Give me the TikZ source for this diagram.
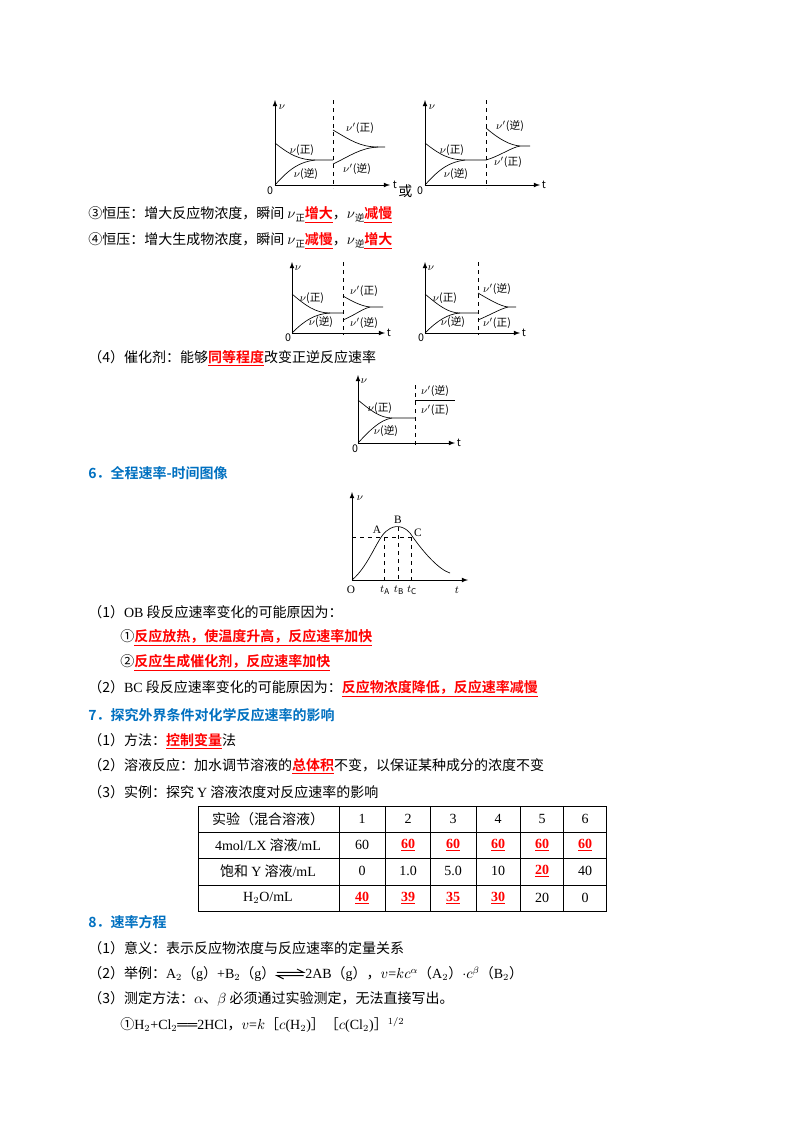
\documentclass[tikz,border=0pt]{standalone}
\usepackage{fontspec}
\setmainfont{Noto Sans CJK SC}[BoldFont={Noto Sans CJK SC Bold}]
\newfontfamily\lat{Liberation Serif}
\definecolor{hblue}{RGB}{0,112,192}
\newcommand{\rb}[1]{\textcolor{red}{\bfseries\underline{#1}}}
\begin{document}
\begin{tikzpicture}[x=0.75pt,y=-0.75pt,
  txt/.style={anchor=west,inner sep=0pt,font=\fontsize{10.5pt}{12pt}\selectfont},
  head/.style={txt,text=hblue,font=\fontsize{10.5pt}{12pt}\selectfont\bfseries},
  ax/.style={line width=0.6pt,-latex},
  cv/.style={line width=0.5pt},
  dsh/.style={line width=0.6pt,dashed},
  gl/.style={inner sep=0pt,font=\fontsize{8pt}{9pt}\selectfont},
  cell/.style={inner sep=0pt,font=\lat\fontsize{10.5pt}{12pt}\selectfont}]
\useasboundingbox (0,0) rectangle (800,1132);

% ---------- graph 1
\coordinate (o1) at (275,185);
\draw[ax] (o1) -- (275,100);
\draw[ax] (o1) -- (390,185);
\node[gl] (t1) at (395,185) {t};
\node[gl] (z1) at (270,191) {0};
\node[gl] (v1) at (282,107) {$\nu$};
\draw[dsh] (333,100) -- (333,188);
\draw[cv] (275,143) .. controls (290,155) and (300,160) .. (315,160) -- (333,160);
\draw[cv] (275,185) .. controls (290,168) and (300,162) .. (315,160);
\draw[cv] (333,130) .. controls (350,140) and (360,147) .. (378,147) -- (385,147);
\draw[cv] (333,164) .. controls (350,156) and (360,148) .. (378,147);
\node[gl] (a1) at (302,150) {$\nu$(正)};
\node[gl] (b1) at (306,174) {$\nu$(逆)};
\node[gl] (c1) at (360,128) {$\nu'$(正)};
\node[gl] (d1) at (357,169) {$\nu'$(逆)};
\node[txt] (huo) at (398,191) {或};

% ---------- graph 2
\coordinate (o2) at (425,185);
\draw[ax] (o2) -- (425,100);
\draw[ax] (o2) -- (540,185);
\node[gl] (t2) at (544,185) {t};
\node[gl] (z2) at (420,191) {0};
\node[gl] (v2) at (432,107) {$\nu$};
\draw[dsh] (486,100) -- (486,188);
\draw[cv] (425,143) .. controls (440,155) and (450,160) .. (465,160) -- (486,160);
\draw[cv] (425,185) .. controls (440,168) and (450,162) .. (465,160);
\draw[cv] (486,128) .. controls (500,140) and (510,145) .. (520,146) -- (530,146);
\draw[cv] (486,160) .. controls (500,156) and (510,148) .. (520,146);
\node[gl] (a2) at (452,150) {$\nu$(正)};
\node[gl] (b2) at (456,174) {$\nu$(逆)};
\node[gl] (c2) at (510,126) {$\nu'$(逆)};
\node[gl] (d2) at (508,162) {$\nu'$(正)};

\node[txt] (l3) at (88,215) {③恒压：增大反应物浓度，瞬间 $\nu$\raisebox{-0.3ex}{\scriptsize 正}\rb{增大}，$\nu$\raisebox{-0.3ex}{\scriptsize 逆}\rb{减慢}};
\node[txt] (l4) at (88,241) {④恒压：增大生成物浓度，瞬间 $\nu$\raisebox{-0.3ex}{\scriptsize 正}\rb{减慢}，$\nu$\raisebox{-0.3ex}{\scriptsize 逆}\rb{增大}};

% ---------- graph 3
\draw[ax] (292,333) -- (292,262);
\draw[ax] (292,333) -- (385,333);
\node[gl] (t3) at (389,333) {t};
\node[gl] (z3) at (288,338) {0};
\node[gl] (v3) at (298,268) {$\nu$};
\draw[dsh] (343,262) -- (343,335);
\draw[cv] (292,294) .. controls (305,305) and (315,313) .. (330,313) -- (343,313);
\draw[cv] (292,333) .. controls (305,320) and (315,314) .. (330,313);
\draw[cv] (343,296) .. controls (355,303) and (362,306) .. (370,307) -- (383,307);
\draw[cv] (343,320) .. controls (355,315) and (362,309) .. (370,307);
\node[gl] (a3) at (312,298) {$\nu$(正)};
\node[gl] (b3) at (321,322) {$\nu$(逆)};
\node[gl] (c3) at (364,291) {$\nu'$(正)};
\node[gl] (d3) at (364,323) {$\nu'$(逆)};

% ---------- graph 4
\draw[ax] (425,333) -- (425,262);
\draw[ax] (425,333) -- (520,333);
\node[gl] (t4) at (524,333) {t};
\node[gl] (z4) at (421,338) {0};
\node[gl] (v4) at (431,268) {$\nu$};
\draw[dsh] (478,262) -- (478,335);
\draw[cv] (425,294) .. controls (438,305) and (448,313) .. (460,313) -- (478,313);
\draw[cv] (425,333) .. controls (438,320) and (448,314) .. (460,313);
\draw[cv] (478,293) .. controls (490,300) and (500,306) .. (508,307) -- (516,307);
\draw[cv] (478,320) .. controls (490,315) and (500,309) .. (508,307);
\node[gl] (a4) at (445,298) {$\nu$(正)};
\node[gl] (b4) at (453,322) {$\nu$(逆)};
\node[gl] (c4) at (497,289) {$\nu'$(逆)};
\node[gl] (d4) at (497,323) {$\nu'$(正)};

\node[txt] (l5) at (88,358) {（4）催化剂：能够\rb{同等程度}改变正逆反应速率};

% ---------- graph 5
\draw[ax] (358,443) -- (358,375);
\draw[ax] (358,443) -- (455,443);
\node[gl] (t5) at (459,443) {t};
\node[gl] (z5) at (355,449) {0};
\node[gl] (v5) at (364,381) {$\nu$};
\draw[dsh] (415,385) -- (415,445);
\draw[cv] (358,400) .. controls (370,410) and (380,418) .. (392,418) -- (415,418);
\draw[cv] (358,443) .. controls (370,430) and (380,420) .. (392,418);
\draw[cv] (415,400) -- (455,400);
\node[gl] (a5) at (380,408) {$\nu$(正)};
\node[gl] (b5) at (386,431) {$\nu$(逆)};
\node[gl] (c5) at (435,391) {$\nu'$(逆)};
\node[gl] (d5) at (435,410) {$\nu'$(正)};

\node[head] (h6) at (88,473) {6．全程速率-时间图像};

% ---------- graph 6
\draw[ax] (352,580) -- (352,492);
\draw[ax] (352,580) -- (468,580);
\node[gl] (t6) at (457,590) {$t$};
\node[gl,font=\lat\fontsize{8.5pt}{9pt}\selectfont] (z6) at (351,590) {O};
\node[gl] (v6) at (360,498) {$\nu$};
\draw[cv] (352,580) .. controls (370,565) and (378,535) .. (388,530)
  .. controls (394,525) and (403,525) .. (410,533)
  .. controls (425,555) and (440,570) .. (450,573);
\draw[dsh] (352,537) -- (411,537);
\draw[dsh] (384,537) -- (384,580);
\draw[dsh] (398,527) -- (398,580);
\draw[dsh] (411,537) -- (411,580);
\node[gl,font=\lat\fontsize{8.5pt}{9pt}\selectfont] (pA) at (377,530) {A};
\node[gl,font=\lat\fontsize{8.5pt}{9pt}\selectfont] (pB) at (398,520) {B};
\node[gl,font=\lat\fontsize{8.5pt}{9pt}\selectfont] (pC) at (418,533) {C};
\node[gl] (tA) at (385,590) {$t_{\mathrm A}$};
\node[gl] (tB) at (399,590) {$t_{\mathrm B}$};
\node[gl] (tC) at (412,590) {$t_{\mathrm C}$};

\node[txt] (m1) at (88,612) {（1）{\lat OB} 段反应速率变化的可能原因为：};
\node[txt] (m2) at (120,638) {①\rb{反应放热，使温度升高，反应速率加快}};
\node[txt] (m3) at (120,663) {②\rb{反应生成催化剂，反应速率加快}};
\node[txt] (m4) at (88,689) {（2）{\lat BC} 段反应速率变化的可能原因为：\rb{反应物浓度降低，反应速率减慢}};
\node[head] (h7) at (88,715) {7．探究外界条件对化学反应速率的影响};
\node[txt] (m5) at (88,741) {（1）方法：\rb{控制变量}法};
\node[txt] (m6) at (88,766) {（2）溶液反应：加水调节溶液的\rb{总体积}不变，以保证某种成分的浓度不变};
\node[txt] (m7) at (88,792) {（3）实例：探究 {\lat Y} 溶液浓度对反应速率的影响};

% ---------- table
\draw[line width=0.6pt] (198,806) rectangle (606,911);
\foreach \yy in {832,858,885} \draw[line width=0.5pt] (198,\yy) -- (606,\yy);
\foreach \xx in {339,385,430,476,520,563} \draw[line width=0.5pt] (\xx,806) -- (\xx,911);
\node[inner sep=0pt,font=\fontsize{10.5pt}{12pt}\selectfont] (r0) at (268,819) {实验（混合溶液）};
\node[inner sep=0pt,font=\fontsize{10.5pt}{12pt}\selectfont] (r1) at (268,845) {{\lat 4mol/LX} 溶液{\lat /mL}};
\node[inner sep=0pt,font=\fontsize{10.5pt}{12pt}\selectfont] (r2) at (268,871) {饱和 {\lat Y} 溶液{\lat /mL}};
\node[cell] (r3) at (268,898) {H$_2$O/mL};
\node[cell] (c01) at (362,819) {1};
\node[cell] (c02) at (408,819) {2};
\node[cell] (c03) at (453,819) {3};
\node[cell] (c04) at (498,819) {4};
\node[cell] (c05) at (542,819) {5};
\node[cell] (c06) at (585,819) {6};
\node[cell] (c11) at (362,845) {60};
\node[cell] (c12) at (408,845) {\rb{60}};
\node[cell] (c13) at (453,845) {\rb{60}};
\node[cell] (c14) at (498,845) {\rb{60}};
\node[cell] (c15) at (542,845) {\rb{60}};
\node[cell] (c16) at (585,845) {\rb{60}};
\node[cell] (c21) at (362,871) {0};
\node[cell] (c22) at (408,871) {1.0};
\node[cell] (c23) at (453,871) {5.0};
\node[cell] (c24) at (498,871) {10};
\node[cell] (c25) at (542,871) {\rb{20}};
\node[cell] (c26) at (585,871) {40};
\node[cell] (c31) at (362,898) {\rb{40}};
\node[cell] (c32) at (408,898) {\rb{39}};
\node[cell] (c33) at (453,898) {\rb{35}};
\node[cell] (c34) at (498,898) {\rb{30}};
\node[cell] (c35) at (542,898) {20};
\node[cell] (c36) at (585,898) {0};

\node[head] (h8) at (88,922) {8．速率方程};
\node[txt] (n1) at (88,948) {（1）意义：表示反应物浓度与反应速率的定量关系};
\node[txt] (n2a) at (88,974) {（2）举例：{\lat A$_2$}（{\lat g}）{\lat +B$_2$}（{\lat g}）};
\node[txt] (n2b) at (305,974) {{\lat 2AB}（{\lat g}），{\lat $v$=$kc^{\alpha}$}（{\lat A$_2$}）{\lat $\cdot c^{\beta}$}（{\lat B$_2$}）};
\coordinate (eqL) at ([xshift=1pt]n2a.east);
\coordinate (eqR) at ([xshift=-1pt]n2b.west);
\draw[line width=0.7pt] ([yshift=1.2pt]eqL) -- ([yshift=1.2pt]eqR) -- ++(-5pt,2.5pt);
\draw[line width=0.7pt] ([yshift=-1.2pt]eqR) -- ([yshift=-1.2pt]eqL) -- ++(5pt,-2.5pt);
\node[txt] (n3) at (88,999) {（3）测定方法：$\alpha$、$\beta$ 必须通过实验测定，无法直接写出。};
\node[txt] (n4) at (120,1025) {①{\lat H$_2$+Cl$_2$══2HCl}，{\lat $v$=$k$}［{\lat $c$(H$_2$)}］［{\lat $c$(Cl$_2$)}］$^{1/2}$};
\end{tikzpicture}
\end{document}
